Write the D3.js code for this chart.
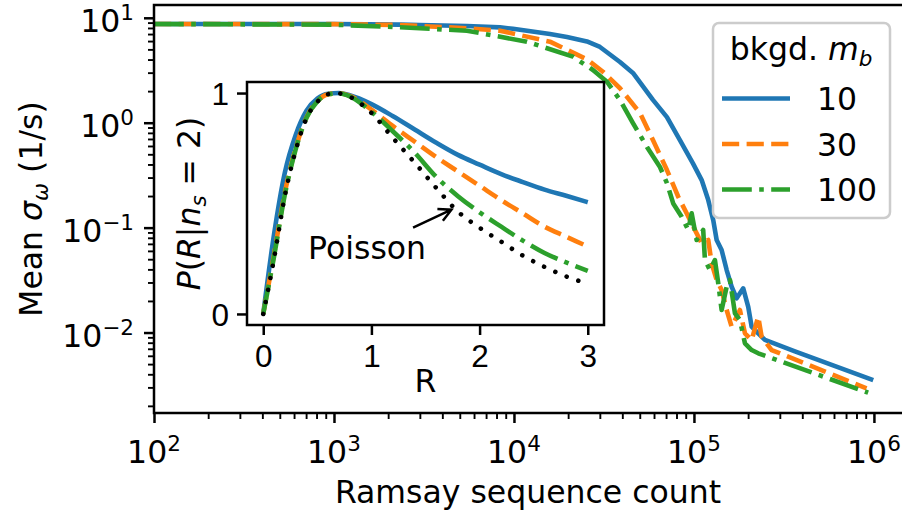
<!DOCTYPE html>
<html>
<head>
<meta charset="utf-8">
<script src="https://cdn.jsdelivr.net/npm/d3@7"></script>
<style>
  html, body { margin: 0; padding: 0; background: #fff; }
  svg { display: block; font-family: "DejaVu Sans", sans-serif; }
</style>
</head>
<body>
<div id="chart"></div>
<script>
// background levels m_b (legend) and their line styles
const mbLabels = ["10", "30", "100"];
const mbColors = ["#1f77b4", "#ff7f0e", "#2ca02c"];
const mbDashes = [null, "17.2,7.4", "29.8,7.4,4.6,7.4"];

// main plot: mean sigma_omega (1/s) against Ramsay sequence count
const count10 = [100, 1000, 2326, 3005, 5482, 8357, 9873, 15850, 19700, 25440, 30050, 38810, 45830, 59180, 70790, 83570, 98730, 110400, 120100, 128000, 133700, 142500, 152000, 162000, 172700, 187900, 200300, 209200, 227600, 248000, 364000, 991000];
const sigma10 = [8.73, 8.73, 8.6, 8.54, 8.35, 8.1, 7.85, 7.0, 6.56, 5.95, 5.27, 3.79, 2.98, 1.65, 1.13, 0.684, 0.41, 0.284, 0.183, 0.118, 0.0762, 0.0612, 0.0394, 0.0273, 0.0212, 0.0264, 0.0176, 0.0114, 0.0098, 0.0085, 0.0066, 0.00352];

const count30 = [100, 1000, 2326, 5482, 8357, 15850, 25440, 31220, 38810, 50120, 59180, 70790, 81800, 91100, 101300, 110400, 120100, 125400, 133700, 142500, 152000, 162000, 180100, 192000, 209200, 227600, 237700, 270200, 910000];
const sigma30 = [8.73, 8.7, 8.54, 7.95, 7.53, 5.92, 4.02, 3.06, 2.13, 1.24, 0.684, 0.354, 0.197, 0.137, 0.0949, 0.0709, 0.0762, 0.0457, 0.0317, 0.0254, 0.0164, 0.01136, 0.0164, 0.00983, 0.00848, 0.01415, 0.00912, 0.00681, 0.00294];

const count100 = [100, 1000, 2326, 5482, 11810, 21270, 27470, 32860, 38810, 45830, 54820, 64740, 70790, 76700, 85450, 92960, 97100, 103500, 112600, 115100, 122700, 130800, 136500, 142500, 152000, 158500, 169000, 180100, 192000, 209200, 227600, 929000];
const sigma100 = [8.73, 8.6, 8.12, 7.53, 5.92, 4.26, 3.18, 2.46, 1.646, 0.993, 0.587, 0.378, 0.266, 0.17, 0.127, 0.0949, 0.137, 0.0762, 0.0949, 0.0491, 0.0394, 0.0491, 0.0294, 0.0164, 0.0273, 0.0317, 0.01524, 0.01316, 0.00789, 0.00681, 0.00634, 0.00267];

// inset: P(R | n_s = 2), peak normalised
const rGrid = [0, 0.1, 0.2, 0.3, 0.4, 0.5, 0.6, 0.7, 0.8, 1.0, 1.2, 1.4, 1.6, 1.8, 2.0, 2.2, 2.4, 2.6, 2.8, 3.0];
const pMb10 = [0, 0.36, 0.64, 0.81, 0.92, 0.975, 0.997, 1.0, 0.99, 0.95, 0.895, 0.835, 0.775, 0.72, 0.676, 0.633, 0.597, 0.563, 0.535, 0.506];
const pMb30 = [0, 0.27, 0.55, 0.75, 0.89, 0.963, 0.995, 0.999, 0.987, 0.925, 0.85, 0.78, 0.71, 0.645, 0.58, 0.515, 0.455, 0.395, 0.35, 0.305];
const pMb100 = [0, 0.26, 0.54, 0.745, 0.888, 0.962, 0.995, 0.998, 0.985, 0.915, 0.826, 0.73, 0.62, 0.533, 0.46, 0.395, 0.332, 0.276, 0.233, 0.195];
const pPoisson = [0, 0.25, 0.535, 0.74, 0.886, 0.96, 0.995, 0.998, 0.983, 0.91, 0.796, 0.685, 0.57, 0.463, 0.39, 0.327, 0.264, 0.213, 0.17, 0.137];

// ticks
const xTickExp = [2, 3, 4, 5, 6];
const yTickExp = [-2, -1, 0, 1];
const insetXTicks = [0, 1, 2, 3];
const insetYTicks = [0, 1];

// annotation (inset data coords)
const poissonText = [0.415, 0.25];
const arrowFrom = [1.385, 0.391];
const arrowTo = [1.74, 0.472];

const width = 902, height = 515;
const FS = 31.5, SUP = 21.5;

const mainLeft = 154, mainRight = 902, mainTop = 5, mainBottom = 413;
const inLeft = 247, inRight = 604, inTop = 82, inBottom = 325;

const svg = d3.select("#chart")
  .append("svg")
  .attr("width", width)
  .attr("height", height)
  .attr("viewBox", [0, 0, width, height])
  .attr("font-size", FS);

const x = d3.scaleLog().domain([100, 10 ** 6.156]).range([mainLeft, mainRight]);
const y = d3.scaleLog().domain([10 ** -2.767, 10 ** 1.122]).range([mainBottom, mainTop]);

const xi = d3.scaleLinear().domain([-0.15, 3.15]).range([inLeft, inRight]);
const yi = d3.scaleLinear().domain([-0.05, 1.05]).range([inBottom, inTop]);

// "10^e" label as text + raised smaller tspan
function pow10(sel) {
  sel.each(function (e) {
    const t = d3.select(this);
    t.append("tspan").text("10");
    t.append("tspan").attr("dy", -12).attr("font-size", SUP)
      .text(e < 0 ? "\u2212" + (-e) : String(e));
  });
}

function minorLog(lo, hi) {
  const out = [];
  for (let e = lo; e <= hi; e++) for (let k = 2; k <= 9; k++) out.push(k * 10 ** e);
  return out;
}

svg.append("clipPath").attr("id", "mainclip")
  .append("rect")
  .attr("x", mainLeft).attr("y", mainTop)
  .attr("width", mainRight - mainLeft).attr("height", mainBottom - mainTop);

// ---- main curves
const mainLine = d3.line().x(d => x(d[0])).y(d => y(d[1]));
const mainData = [d3.zip(count10, sigma10), d3.zip(count30, sigma30), d3.zip(count100, sigma100)];

svg.append("g")
  .attr("clip-path", "url(#mainclip)")
  .selectAll("path")
  .data(mainData)
  .join("path")
    .attr("d", mainLine)
    .attr("fill", "none")
    .attr("stroke", (d, i) => mbColors[i])
    .attr("stroke-width", 4.6)
    .attr("stroke-linejoin", "round")
    .attr("stroke-dasharray", (d, i) => mbDashes[i]);

// ---- main axes
const xAxisG = svg.append("g").attr("transform", `translate(0,${mainBottom})`);
xAxisG.append("g")
  .call(d3.axisBottom(x).tickValues(minorLog(2, 6).filter(v => v <= x.domain()[1])).tickSize(6).tickFormat(() => ""))
  .call(g => g.select(".domain").remove())
  .call(g => g.selectAll("line").attr("stroke", "#000").attr("stroke-width", 1.9));
xAxisG.append("g")
  .call(d3.axisBottom(x).tickValues(xTickExp.map(e => 10 ** e)).tickSize(10).tickFormat(() => ""))
  .call(g => g.select(".domain").remove())
  .call(g => g.selectAll("line").attr("stroke", "#000").attr("stroke-width", 2.5));

svg.append("g")
  .selectAll("text")
  .data(xTickExp)
  .join("text")
    .attr("x", e => x(10 ** e))
    .attr("y", mainBottom + 50)
    .attr("text-anchor", "middle")
    .call(pow10);

const yAxisG = svg.append("g").attr("transform", `translate(${mainLeft},0)`);
yAxisG.append("g")
  .call(d3.axisLeft(y).tickValues(minorLog(-3, 1).filter(v => v >= y.domain()[0] && v <= y.domain()[1])).tickSize(6).tickFormat(() => ""))
  .call(g => g.select(".domain").remove())
  .call(g => g.selectAll("line").attr("stroke", "#000").attr("stroke-width", 1.9));
yAxisG.append("g")
  .call(d3.axisLeft(y).tickValues(yTickExp.map(e => 10 ** e)).tickSize(10).tickFormat(() => ""))
  .call(g => g.select(".domain").remove())
  .call(g => g.selectAll("line").attr("stroke", "#000").attr("stroke-width", 2.5));

svg.append("g")
  .selectAll("text")
  .data(yTickExp)
  .join("text")
    .attr("x", mainLeft - 20)
    .attr("y", e => y(10 ** e) + 14)
    .attr("text-anchor", "end")
    .call(pow10);

// frame (right spine falls just outside the picture)
svg.append("rect")
  .attr("x", mainLeft).attr("y", mainTop)
  .attr("width", mainRight - mainLeft + 2).attr("height", mainBottom - mainTop)
  .attr("fill", "none").attr("stroke", "#000").attr("stroke-width", 2.5);

svg.append("text")
  .attr("x", (mainLeft + mainRight) / 2)
  .attr("y", mainBottom + 90)
  .attr("text-anchor", "middle")
  .text("Ramsay sequence count");

const yLab = svg.append("text")
  .attr("transform", `translate(42,${(mainTop + mainBottom) / 2}) rotate(-90)`)
  .attr("text-anchor", "middle");
yLab.append("tspan").text("Mean ");
yLab.append("tspan").attr("font-style", "italic").text("\u03c3");
yLab.append("tspan").attr("font-style", "italic").attr("font-size", SUP).attr("dy", 6).text("\u03c9");
yLab.append("tspan").attr("dy", -6).text(" (1/s)");

// ---- legend
const legend = svg.append("g");
legend.append("rect")
  .attr("x", 713).attr("y", 23).attr("width", 177).attr("height", 195)
  .attr("rx", 6)
  .attr("fill", "#fff").attr("fill-opacity", 0.8)
  .attr("stroke", "#cccccc").attr("stroke-width", 2.5);
const title = legend.append("text")
  .attr("x", 801).attr("y", 60)
  .attr("text-anchor", "middle");
title.append("tspan").text("bkgd. ");
title.append("tspan").attr("font-style", "italic").text("m");
title.append("tspan").attr("font-style", "italic").attr("font-size", SUP).attr("dy", 6).text("b");

const entry = legend.selectAll("g.entry")
  .data(mbLabels)
  .join("g")
    .attr("class", "entry")
    .attr("transform", (d, i) => `translate(0,${98.5 + i * 45.5})`);
entry.append("line")
  .attr("x1", 722).attr("x2", 790)
  .attr("stroke", (d, i) => mbColors[i])
  .attr("stroke-width", 4.6)
  .attr("stroke-dasharray", (d, i) => mbDashes[i]);
entry.append("text")
  .attr("x", 817).attr("y", 11.5)
  .text(d => d);

// ---- inset
const inset = svg.append("g");
inset.append("rect")
  .attr("x", inLeft).attr("y", inTop)
  .attr("width", inRight - inLeft).attr("height", inBottom - inTop)
  .attr("fill", "#fff");

const inLine = d3.line().x(d => xi(d[0])).y(d => yi(d[1])).curve(d3.curveMonotoneX);
const inData = [d3.zip(rGrid, pMb10), d3.zip(rGrid, pMb30), d3.zip(rGrid, pMb100)];

inset.selectAll("path.mb")
  .data(inData)
  .join("path")
    .attr("class", "mb")
    .attr("d", inLine)
    .attr("fill", "none")
    .attr("stroke", (d, i) => mbColors[i])
    .attr("stroke-width", 4.6)
    .attr("stroke-dasharray", (d, i) => mbDashes[i]);

inset.append("path")
  .attr("d", inLine(d3.zip(rGrid, pPoisson)))
  .attr("fill", "none")
  .attr("stroke", "#000")
  .attr("stroke-width", 4.6)
  .attr("stroke-linecap", "round")
  .attr("stroke-dasharray", "0.01,12.3");

inset.append("rect")
  .attr("x", inLeft).attr("y", inTop)
  .attr("width", inRight - inLeft).attr("height", inBottom - inTop)
  .attr("fill", "none").attr("stroke", "#000").attr("stroke-width", 2.5);

inset.append("g")
  .attr("transform", `translate(0,${inBottom})`)
  .call(d3.axisBottom(xi).tickValues(insetXTicks).tickSize(10).tickPadding(8).tickFormat(d3.format("d")))
  .call(g => g.select(".domain").remove())
  .call(g => g.selectAll("line").attr("stroke", "#000").attr("stroke-width", 2.5))
  .call(g => g.selectAll("text").attr("font-size", FS).attr("font-family", null).attr("fill", "#000").attr("dy", "0.76em"));

inset.append("g")
  .attr("transform", `translate(${inLeft},0)`)
  .call(d3.axisLeft(yi).tickValues(insetYTicks).tickSize(10).tickPadding(8).tickFormat(d3.format("d")))
  .call(g => g.select(".domain").remove())
  .call(g => g.selectAll("line").attr("stroke", "#000").attr("stroke-width", 2.5))
  .call(g => g.selectAll("text").attr("font-size", FS).attr("font-family", null).attr("fill", "#000").attr("dy", "0.36em"));

inset.append("text")
  .attr("x", (inLeft + inRight) / 2)
  .attr("y", inBottom + 67)
  .attr("text-anchor", "middle")
  .text("R");

const iyLab = inset.append("text")
  .attr("transform", `translate(200,${(inTop + inBottom) / 2}) rotate(-90)`)
  .attr("text-anchor", "middle");
iyLab.append("tspan").attr("font-style", "italic").text("P");
iyLab.append("tspan").text("(");
iyLab.append("tspan").attr("font-style", "italic").text("R");
iyLab.append("tspan").text("|");
iyLab.append("tspan").attr("font-style", "italic").text("n");
iyLab.append("tspan").attr("font-style", "italic").attr("font-size", SUP).attr("dy", 6).text("s");
iyLab.append("tspan").attr("dy", -6).text(" = 2)");

// Poisson annotation with open arrow head
inset.append("text")
  .attr("x", xi(poissonText[0]))
  .attr("y", yi(poissonText[1]))
  .text("Poisson");

const ax0 = xi(arrowFrom[0]), ay0 = yi(arrowFrom[1]);
const ax1 = xi(arrowTo[0]), ay1 = yi(arrowTo[1]);
const ang = Math.atan2(ay1 - ay0, ax1 - ax0);
const hl = 12.5, hw = 6.5;
const arrow = d3.path();
arrow.moveTo(ax0, ay0);
arrow.lineTo(ax1, ay1);
arrow.moveTo(ax1 - hl * Math.cos(ang) + hw * Math.sin(ang), ay1 - hl * Math.sin(ang) - hw * Math.cos(ang));
arrow.lineTo(ax1, ay1);
arrow.lineTo(ax1 - hl * Math.cos(ang) - hw * Math.sin(ang), ay1 - hl * Math.sin(ang) + hw * Math.cos(ang));
inset.append("path")
  .attr("d", arrow.toString())
  .attr("fill", "none")
  .attr("stroke", "#000")
  .attr("stroke-width", 2.5)
  .attr("stroke-linejoin", "miter");
</script>
</body>
</html>
